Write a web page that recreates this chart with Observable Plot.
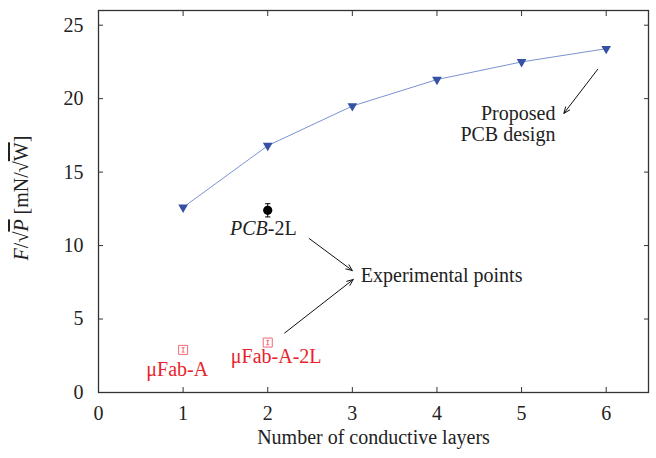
<!DOCTYPE html>
<html>
<head>
<meta charset="utf-8">
<script src="https://cdn.jsdelivr.net/npm/d3@7"></script>
<script src="https://cdn.jsdelivr.net/npm/@observablehq/plot@0.6"></script>
<style>
  body { margin: 0; background: #fff; }
  #chart svg { display: block; }
  #chart svg, #chart svg text { font-family: "Liberation Serif", "Times New Roman", serif !important; }
</style>
</head>
<body>
<div id="chart"></div>
<script>
// Proposed PCB design (simulated)
const layers = [1, 2, 3, 4, 5, 6];
const proposed = [12.6, 16.8, 19.5, 21.3, 22.5, 23.4];

// Experimental points
const pcbX = [2];
const pcbY = [12.4];
const pcbErr = [0.45];
const fabX = [1, 2];
const fabY = [2.9, 3.4];
const fabErr = [0.15, 0.15];

// Ticks
const xTicks = [0, 1, 2, 3, 4, 5, 6];
const yTicks = [0, 5, 10, 15, 20, 25];

// Annotations (data coordinates)
const fabLabels = ["μFab-A", "μFab-A-2L"];
const fabLabelX = [0.93, 2.1];
const fabLabelY = [1.55, 2.45];
const expLabel = ["Experimental points"];
const expLabelX = [3.1];
const expLabelY = [7.96];
const pcbDesignLabels = ["Proposed", "PCB design"];
const pcbDesignX = [5.4, 5.4];
const pcbDesignY = [19.0, 17.56];
const arrowX1 = [5.9, 2.49, 2.2];
const arrowY1 = [22.0, 10.48, 4.05];
const arrowX2 = [5.5, 3.0, 3.01];
const arrowY2 = [19.0, 8.3, 7.69];

const series = layers.map((x, i) => ({x, y: proposed[i]}));
const pcb = pcbX.map((x, i) => ({x, y: pcbY[i], lo: pcbY[i] - pcbErr[i], hi: pcbY[i] + pcbErr[i]}));
const fab = fabX.map((x, i) => ({x, y: fabY[i], lo: fabY[i] - fabErr[i], hi: fabY[i] + fabErr[i]}));
const fabText = fabLabels.map((t, i) => ({t, x: fabLabelX[i], y: fabLabelY[i]}));
const expText = expLabel.map((t, i) => ({t, x: expLabelX[i], y: expLabelY[i]}));
const designText = pcbDesignLabels.map((t, i) => ({t, x: pcbDesignX[i], y: pcbDesignY[i]}));
const arrows = arrowX1.map((x1, i) => ({x1, y1: arrowY1[i], x2: arrowX2[i], y2: arrowY2[i]}));

const cap = {draw(ctx, size) { const w = Math.sqrt(size) / 2; ctx.moveTo(-w, 0); ctx.lineTo(w, 0); }};

const RED = "#e8232a";
const BLUE = "#3550a5";
const FONT = "'Liberation Serif', 'Times New Roman', serif";

const chart = Plot.plot({
  width: 656,
  height: 458,
  marginLeft: 98,
  marginRight: 8,
  marginTop: 10,
  marginBottom: 66,
  style: {fontFamily: FONT, fontSize: "20px", color: "#222", background: "#fff"},
  x: {domain: [0, 6.5]},
  y: {domain: [0, 26]},
  marks: [
    Plot.frame({stroke: "#333", strokeWidth: 1.3}),
    Plot.axisX({anchor: "bottom", ticks: xTicks, tickSize: -5, tickPadding: 18, tickFormat: d => String(d), label: null, fontSize: 20, stroke: "#333"}),
    Plot.axisX({anchor: "top", ticks: xTicks, tickSize: -5, tickFormat: () => "", label: null, stroke: "#333"}),
    Plot.axisY({anchor: "left", ticks: yTicks, tickSize: -5, tickPadding: 20, tickFormat: d => String(d), label: null, fontSize: 20, stroke: "#333"}),
    Plot.axisY({anchor: "right", ticks: yTicks, tickSize: -5, tickFormat: () => "", label: null, stroke: "#333"}),
    Plot.text(["Number of conductive layers"], {frameAnchor: "bottom", dy: 51, fontSize: 20, fill: "#222"}),
    Plot.line(series, {x: "x", y: "y", stroke: "#7b93d2", strokeWidth: 1}),
    Plot.dot(series, {x: "x", y: "y", symbol: "triangle", rotate: 180, r: 3.6, fill: BLUE, stroke: "none"}),
    Plot.link(pcb, {x1: "x", x2: "x", y1: "lo", y2: "hi", stroke: "#000", strokeWidth: 1}),
    Plot.dot(pcb, {x: "x", y: "lo", symbol: cap, r: 3, stroke: "#000", strokeWidth: 1}),
    Plot.dot(pcb, {x: "x", y: "hi", symbol: cap, r: 3, stroke: "#000", strokeWidth: 1}),
    Plot.dot(pcb, {x: "x", y: "y", r: 4.6, fill: "#000", stroke: "none"}),
    Plot.dot(fab, {x: "x", y: "y", symbol: "square", r: 5.1, fill: "none", stroke: "#f06a78", strokeWidth: 1}),
    Plot.link(fab, {x1: "x", x2: "x", y1: "lo", y2: "hi", stroke: "#f06a78", strokeWidth: 1}),
    Plot.dot(fab, {x: "x", y: "lo", symbol: cap, r: 1.6, stroke: "#f06a78", strokeWidth: 1}),
    Plot.dot(fab, {x: "x", y: "hi", symbol: cap, r: 1.6, stroke: "#f06a78", strokeWidth: 1}),
    Plot.text(fabText, {x: "x", y: "y", text: "t", fill: RED, fontSize: 20}),
    Plot.text(expText, {x: "x", y: "y", text: "t", textAnchor: "start", fill: "#222", fontSize: 20}),
    Plot.text(designText, {x: "x", y: "y", text: "t", textAnchor: "end", fill: "#222", fontSize: 20}),
    Plot.text(pcb, {x: "x", y: d => d.y - 1.22, text: () => "PCB", textAnchor: "end", fontStyle: "italic", fill: "#222", fontSize: 20}),
    Plot.text(pcb, {x: "x", y: d => d.y - 1.22, text: () => "-2L", textAnchor: "start", fill: "#222", fontSize: 20}),
    Plot.arrow(arrows, {x1: "x1", y1: "y1", x2: "x2", y2: "y2", stroke: "#111", strokeWidth: 1, headLength: 10, headAngle: 45})
  ]
});

// Y-axis label with italic variables and radical overlines
const svg = d3.select(chart);
const lbl = svg.append("text")
  .attr("transform", "translate(28,198) rotate(-90)")
  .attr("text-anchor", "middle")
  .attr("fill", "#222")
  .attr("font-size", 20);
lbl.append("tspan").attr("font-style", "italic").text("F");
lbl.append("tspan").text("/√");
lbl.append("tspan").attr("font-style", "italic").style("text-decoration", "overline").text("P");
lbl.append("tspan").text(" [mN/√");
lbl.append("tspan").style("text-decoration", "overline").text("W");
lbl.append("tspan").text("]");

svg.selectAll("text").attr("font-family", FONT);

document.getElementById("chart").appendChild(chart);
</script>
</body>
</html>
